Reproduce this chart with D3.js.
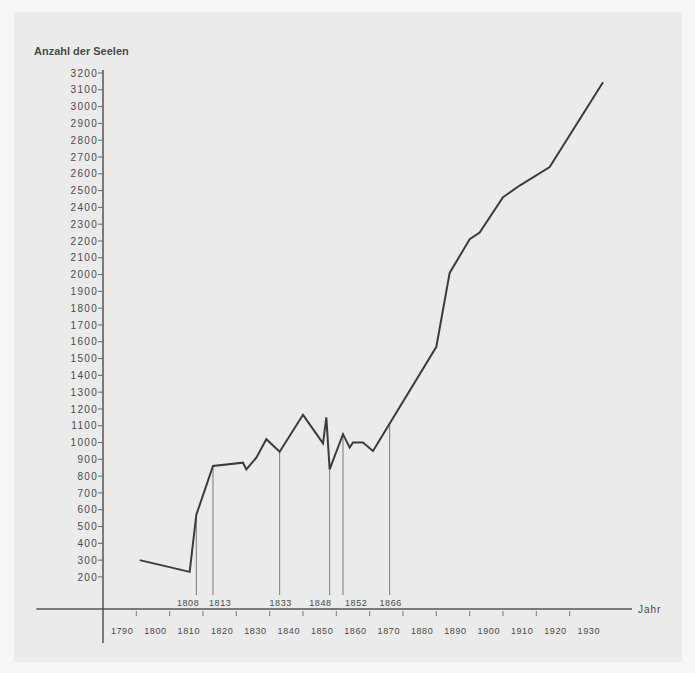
<!DOCTYPE html>
<html>
<head>
<meta charset="utf-8">
<script src="https://cdn.jsdelivr.net/npm/d3@7/dist/d3.min.js"></script>
<style>
  html, body { margin: 0; padding: 0; background: #f6f6f6; }
  svg { display: block; }
  text { font-family: "Liberation Sans", Arial, sans-serif; fill: #4a4a4a; }
</style>
</head>
<body>
<div id="chart"></div>
<script>
// Anzahl der Seelen
var years  = [1791, 1806, 1808, 1813, 1822, 1823, 1826, 1829, 1833, 1840, 1846, 1847, 1848,
              1852, 1854, 1855, 1858, 1861, 1880, 1884, 1890, 1893, 1900, 1905, 1914, 1930];
var souls  = [300, 230, 570, 860, 880, 840, 910, 1020, 945, 1165, 995, 1150, 840,
              1050, 970, 1000, 1000, 950, 1570, 2010, 2210, 2250, 2460, 2530, 2640, 3145];

// marked years with drop lines
var markYears = [1808, 1813, 1833, 1848, 1852, 1866];

// axis ticks
var yTicks = d3.range(200, 3300, 100);
var xTickYears  = d3.range(1790, 1930, 10);
var xLabelYears = d3.range(1790, 1940, 10);

var W = 695, H = 673;

var svg = d3.select("#chart").append("svg")
    .attr("width", W)
    .attr("height", H);

// scanned page panel
svg.append("rect")
    .attr("x", 14).attr("y", 12)
    .attr("width", 668).attr("height", 650)
    .attr("fill", "#ebebeb");

var x = d3.scaleLinear().domain([1780, 1930]).range([103, 603]);
var y = d3.scaleLinear().domain([0, 3200]).range([610.5, 73]);

var axisY0 = y(0) - 1.5;   // horizontal axis line

// title
svg.append("text")
    .attr("x", 34).attr("y", 55)
    .attr("font-size", 11)
    .attr("font-weight", "bold")
    .text("Anzahl der Seelen");

// y axis
svg.append("line")
    .attr("x1", x(1780)).attr("x2", x(1780))
    .attr("y1", 70).attr("y2", 643)
    .attr("stroke", "#555").attr("stroke-width", 1.5);

var yg = svg.append("g");
yg.selectAll("line.tick").data(yTicks).enter().append("line")
    .attr("x1", x(1780) - 5).attr("x2", x(1780))
    .attr("y1", function(d) { return y(d); })
    .attr("y2", function(d) { return y(d); })
    .attr("stroke", "#666").attr("stroke-width", 1);
yg.selectAll("text").data(yTicks).enter().append("text")
    .attr("x", x(1780) - 5)
    .attr("y", function(d) { return y(d); })
    .attr("dy", "0.36em")
    .attr("text-anchor", "end")
    .attr("font-size", 10)
    .attr("letter-spacing", 1.3)
    .text(function(d) { return d; });

// x axis
svg.append("line")
    .attr("x1", x(1760)).attr("x2", 632)
    .attr("y1", axisY0).attr("y2", axisY0)
    .attr("stroke", "#555").attr("stroke-width", 1.5);

svg.append("text")
    .attr("x", 638).attr("y", axisY0 + 4)
    .attr("font-size", 10)
    .attr("letter-spacing", 1)
    .text("Jahr");

var xg = svg.append("g");
xg.selectAll("line").data(xTickYears).enter().append("line")
    .attr("x1", function(d) { return x(d); })
    .attr("x2", function(d) { return x(d); })
    .attr("y1", axisY0 + 2).attr("y2", axisY0 + 7)
    .attr("stroke", "#777").attr("stroke-width", 1);
xg.selectAll("text").data(xLabelYears).enter().append("text")
    .attr("x", function(d) { return x(d) - 3; })
    .attr("y", axisY0 + 25)
    .attr("text-anchor", "end")
    .attr("font-size", 9)
    .attr("letter-spacing", 0.6)
    .text(function(d) { return d; });

// drop lines for marked years
function valueAt(yr) {
  var i = d3.bisectLeft(years, yr);
  if (years[i] === yr) return souls[i];
  var t = (yr - years[i - 1]) / (years[i] - years[i - 1]);
  return souls[i - 1] + t * (souls[i] - souls[i - 1]);
}

var markAnchor = { 1808: ["end", 3], 1813: ["start", -4], 1833: ["middle", 1],
                   1848: ["end", 2], 1852: ["start", 2], 1866: ["middle", 1] };

var mg = svg.append("g");
mg.selectAll("line").data(markYears).enter().append("line")
    .attr("x1", function(d) { return x(d); })
    .attr("x2", function(d) { return x(d); })
    .attr("y1", function(d) { return y(valueAt(d)); })
    .attr("y2", axisY0 - 14)
    .attr("stroke", "#7a7a7a").attr("stroke-width", 1);
mg.selectAll("text").data(markYears).enter().append("text")
    .attr("x", function(d) { return x(d) + markAnchor[d][1]; })
    .attr("y", axisY0 - 3)
    .attr("text-anchor", function(d) { return markAnchor[d][0]; })
    .attr("font-size", 9)
    .attr("letter-spacing", 0.6)
    .text(function(d) { return d; });

// the population line
var line = d3.line()
    .x(function(d, i) { return x(years[i]); })
    .y(function(d) { return y(d); });

svg.append("path")
    .datum(souls)
    .attr("d", line)
    .attr("fill", "none")
    .attr("stroke", "#3c3c3c")
    .attr("stroke-width", 2)
    .attr("stroke-linejoin", "miter");
</script>
</body>
</html>
